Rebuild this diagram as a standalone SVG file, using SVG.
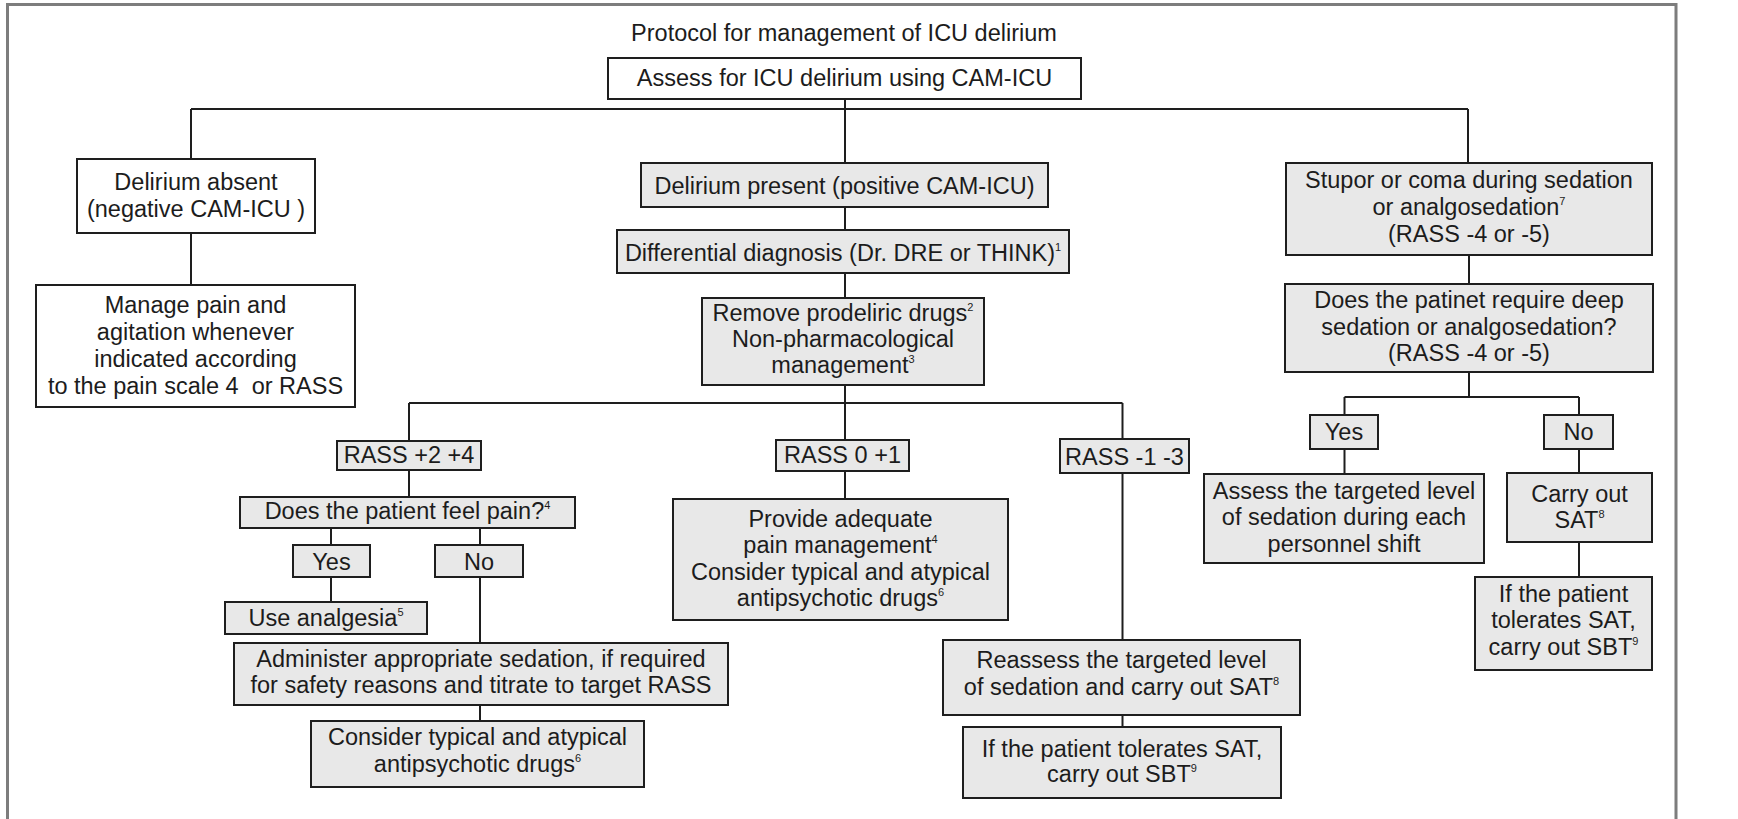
<svg xmlns="http://www.w3.org/2000/svg" width="1738" height="819" viewBox="0 0 1738 819">
<style>
text{font-family:"Liberation Sans",Arial,sans-serif;font-size:23.5px;fill:#1c1c1c;text-anchor:middle}
.w{fill:#ffffff;stroke:#1e1e1e;stroke-width:2}
.g{fill:#e8e8e8;stroke:#1e1e1e;stroke-width:2}
.sup{font-size:11px}
#connectors path{fill:none;stroke:#1e1e1e;stroke-width:2}
</style>
<rect x="0" y="0" width="1738" height="819" fill="#ffffff"/>
<path d="M7.5,820 V4.5 H1676 V820" fill="none" stroke="#7d7d7d" stroke-width="3"/>
<text id="title" x="844" y="41">Protocol for management of ICU delirium</text>

<g id="connectors">
<path d="M845,99 V163 M191,109 H1468 M191,109 V159 M1468,109 V163"/>
<path d="M191,233 V285"/>
<path d="M845,207 V230 M845,273 V298 M845,385 V440"/>
<path d="M409,403 H1122.5 M409,403 V441 M1122.5,403 V439"/>
<path d="M845,471 V499"/>
<path d="M409,470 V497 M331,528 V545 M480,528 V545"/>
<path d="M331,577 V602 M480,577 V643 M480,705 V721"/>
<path d="M1122.5,473 V640 M1122.5,715 V727"/>
<path d="M1469,255 V284 M1469,372 V397 M1344.5,397 H1579 M1344.5,397 V415 M1579,397 V415"/>
<path d="M1344.5,449 V474 M1579,449 V473 M1579,542 V577"/>
</g>

<g id="assess"><rect class="w" x="608" y="58" width="473" height="41"/><text x="844.5" y="86">Assess for ICU delirium using CAM-ICU</text></g>

<g id="absent"><rect class="w" x="77" y="159" width="238" height="74"/><text x="196" y="190">Delirium absent</text><text x="196" y="217">(negative CAM-ICU )</text></g>

<g id="manage"><rect class="w" x="36" y="285" width="319" height="122"/>
<text x="195.5" y="313">Manage pain and</text><text x="195.5" y="340">agitation whenever</text><text x="195.5" y="367">indicated according</text><text x="195.5" y="394">to the pain scale 4 &#160;or RASS</text></g>

<g id="present"><rect class="g" x="641" y="163" width="407" height="44"/><text x="844.5" y="194">Delirium present (positive CAM-ICU)</text></g>

<g id="differential"><rect class="g" x="617" y="230" width="452" height="43"/><text x="843" y="261">Differential diagnosis (Dr. DRE or THINK)<tspan class="sup" dy="-10">1</tspan></text></g>

<g id="remove"><rect class="g" x="702" y="298" width="282" height="87"/>
<text x="843" y="321">Remove prodeliric drugs<tspan class="sup" dy="-10">2</tspan></text><text x="843" y="347">Non-pharmacological</text><text x="843" y="373">management<tspan class="sup" dy="-10">3</tspan></text></g>

<g id="stupor"><rect class="g" x="1286" y="163" width="366" height="92"/>
<text x="1469" y="188">Stupor or coma during sedation</text><text x="1469" y="215">or analgosedation<tspan class="sup" dy="-10">7</tspan></text><text x="1469" y="242">(RASS -4 or -5)</text></g>

<g id="deep"><rect class="g" x="1285" y="284" width="368" height="88"/>
<text x="1469" y="308">Does the patinet require deep</text><text x="1469" y="335">sedation or analgosedation?</text><text x="1469" y="361">(RASS -4 or -5)</text></g>

<g id="yesR"><rect class="g" x="1310" y="415" width="68" height="34"/><text x="1344" y="440">Yes</text></g>
<g id="noR"><rect class="g" x="1544" y="415" width="69" height="34"/><text x="1578.5" y="440">No</text></g>

<g id="assessLevel"><rect class="g" x="1204" y="474" width="280" height="89"/>
<text x="1344" y="499">Assess the targeted level</text><text x="1344" y="525">of sedation during each</text><text x="1344" y="552">personnel shift</text></g>

<g id="carryOut"><rect class="g" x="1507" y="473" width="145" height="69"/>
<text x="1579.5" y="502">Carry out</text><text x="1579.5" y="528">SAT<tspan class="sup" dy="-10">8</tspan></text></g>

<g id="ifRight"><rect class="g" x="1475" y="577" width="177" height="93"/>
<text x="1563.5" y="602">If the patient</text><text x="1563.5" y="628">tolerates SAT,</text><text x="1563.5" y="655">carry out SBT<tspan class="sup" dy="-10">9</tspan></text></g>

<g id="rassMinus"><rect class="g" x="1060" y="439" width="129" height="34"/><text x="1124.5" y="465">RASS -1 -3</text></g>

<g id="reassess"><rect class="g" x="943" y="640" width="357" height="75"/>
<text x="1121.5" y="668">Reassess the targeted level</text><text x="1121.5" y="695">of sedation and carry out SAT<tspan class="sup" dy="-10">8</tspan></text></g>

<g id="ifCenter"><rect class="g" x="963" y="727" width="318" height="71"/>
<text x="1122" y="757">If the patient tolerates SAT,</text><text x="1122" y="782">carry out SBT<tspan class="sup" dy="-10">9</tspan></text></g>

<g id="rassPlus"><rect class="g" x="337" y="441" width="144" height="29"/><text x="409" y="463">RASS +2 +4</text></g>

<g id="pain"><rect class="g" x="240" y="497" width="335" height="31"/><text x="407.5" y="519">Does the patient feel pain?<tspan class="sup" dy="-10">4</tspan></text></g>

<g id="yesL"><rect class="g" x="293" y="545" width="77" height="32"/><text x="331.5" y="570">Yes</text></g>
<g id="noL"><rect class="g" x="435" y="545" width="88" height="32"/><text x="479" y="570">No</text></g>

<g id="analgesia"><rect class="g" x="225" y="602" width="202" height="32"/><text x="326" y="626">Use analgesia<tspan class="sup" dy="-10">5</tspan></text></g>

<g id="administer"><rect class="g" x="234" y="643" width="494" height="62"/>
<text x="481" y="667">Administer appropriate sedation, if required</text><text x="481" y="693">for safety reasons and titrate to target RASS</text></g>

<g id="considerLeft"><rect class="g" x="311" y="721" width="333" height="66"/>
<text x="477.5" y="745">Consider typical and atypical</text><text x="477.5" y="772">antipsychotic drugs<tspan class="sup" dy="-10">6</tspan></text></g>

<g id="rassZero"><rect class="g" x="776" y="440" width="133" height="31"/><text x="842.5" y="463">RASS 0 +1</text></g>

<g id="provide"><rect class="g" x="673" y="499" width="335" height="121"/>
<text x="840.5" y="527">Provide adequate</text><text x="840.5" y="553">pain management<tspan class="sup" dy="-10">4</tspan></text><text x="840.5" y="580">Consider typical and atypical</text><text x="840.5" y="606">antipsychotic drugs<tspan class="sup" dy="-10">6</tspan></text></g>
</svg>
